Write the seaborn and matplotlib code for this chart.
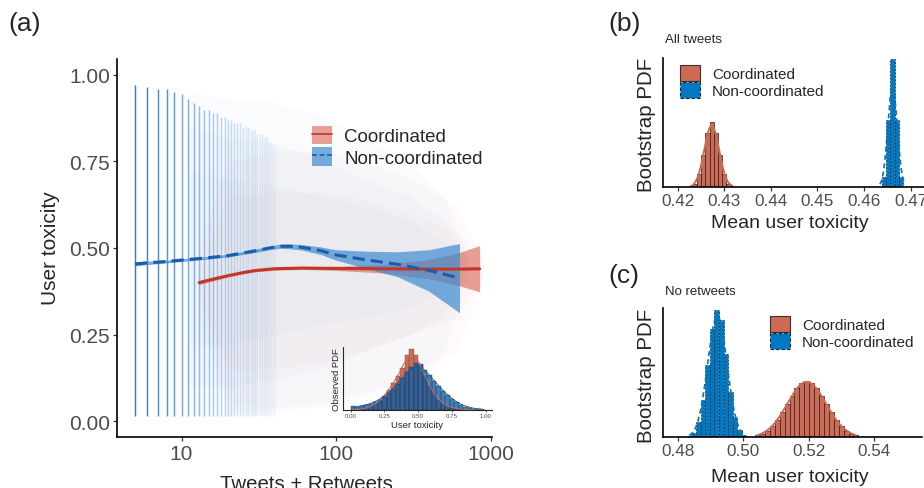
import numpy as np
import pandas as pd
import matplotlib
matplotlib.use("Agg")
import matplotlib.pyplot as plt
import seaborn as sns
from matplotlib.patches import Patch
from matplotlib.lines import Line2D

# ---------------- data: panel (a) ----------------
col_x = list(range(5, 41))
col_alpha = [0.9, 0.85, 0.8, 0.75, 0.7, 0.62, 0.55, 0.5, 0.45, 0.42, 0.38, 0.35, 0.32, 0.3,
             0.28, 0.26, 0.24, 0.22, 0.2, 0.19, 0.18, 0.17, 0.16, 0.15, 0.14, 0.13,
             0.12, 0.11, 0.1, 0.1, 0.09, 0.08, 0.08, 0.07, 0.07, 0.06]
col_top = [0.97, 0.965, 0.96, 0.96, 0.95, 0.945, 0.93, 0.92, 0.91, 0.9, 0.9, 0.89, 0.89, 0.88,
           0.88, 0.87, 0.87, 0.86, 0.86, 0.86, 0.85, 0.85, 0.85, 0.84, 0.84, 0.84,
           0.83, 0.83, 0.83, 0.82, 0.82, 0.82, 0.81, 0.81, 0.8, 0.8]
col_bottom = 0.015

# faint point cloud, drawn as nested density envelopes
blue_cloud_x = [11, 20, 40, 80, 150, 300, 500, 700]
blue_cloud_lo = [[0.02, 0.02, 0.03, 0.04, 0.07, 0.12, 0.2, 0.42],
                 [0.1, 0.1, 0.12, 0.15, 0.2, 0.25, 0.3, 0.44],
                 [0.22, 0.22, 0.25, 0.28, 0.3, 0.33, 0.38, 0.46]]
blue_cloud_hi = [[0.95, 0.93, 0.92, 0.88, 0.82, 0.75, 0.65, 0.48],
                 [0.85, 0.82, 0.8, 0.76, 0.7, 0.65, 0.58, 0.47],
                 [0.72, 0.7, 0.68, 0.65, 0.62, 0.58, 0.52, 0.47]]
red_cloud_x = [13, 20, 40, 80, 150, 300, 600, 900]
red_cloud_lo = [[0.3, 0.05, 0.04, 0.05, 0.08, 0.12, 0.2, 0.42],
                [0.35, 0.15, 0.15, 0.17, 0.2, 0.25, 0.3, 0.43]]
red_cloud_hi = [[0.5, 0.75, 0.78, 0.78, 0.75, 0.7, 0.62, 0.46],
                [0.45, 0.65, 0.66, 0.66, 0.64, 0.6, 0.55, 0.45]]

blue_x = [5, 6, 8, 10, 15, 20, 30, 37, 43, 50, 60, 80, 100, 150, 250, 400, 630]
blue_y = [0.454, 0.457, 0.461, 0.465, 0.472, 0.478, 0.492, 0.500, 0.505, 0.505, 0.502, 0.492,
          0.480, 0.467, 0.453, 0.435, 0.413]
blue_hw = [0.006, 0.005, 0.004, 0.004, 0.004, 0.004, 0.005, 0.005, 0.006, 0.007, 0.008, 0.011,
           0.015, 0.024, 0.036, 0.06, 0.1]

red_x = [13, 16, 20, 25, 30, 40, 60, 100, 200, 400, 630, 850]
red_y = [0.400, 0.410, 0.420, 0.429, 0.435, 0.440, 0.442, 0.441, 0.440, 0.439, 0.439, 0.440]
red_hw = [0.006, 0.005, 0.004, 0.004, 0.004, 0.004, 0.004, 0.006, 0.012, 0.028, 0.048, 0.067]

# inset: observed PDF (bin centres, heights)
inset_centers = [(i + 0.5) / 30 for i in range(30)]
inset_red = [0, 0, 0.5, 1.5, 3, 5.5, 9, 14, 20, 27, 34, 42, 55, 61, 55, 45, 34, 24, 16, 10,
             6, 3.5, 2, 1, 0.5, 0.2, 0, 0, 0, 0]
inset_blue = [4, 3, 3.5, 4.5, 6, 8, 10, 13, 16.5, 21, 26, 32, 38, 43, 47, 46, 40, 35, 29, 24,
              19, 14.5, 10.5, 7.5, 5, 3, 1.8, 1, 0.5, 0.2]
inset_ticks = [0.0, 0.25, 0.5, 0.75, 1.0]

# ---------------- data: panel (b) ----------------
b_red_centers = [0.4228, 0.4237, 0.4246, 0.4255, 0.4264, 0.4273, 0.4282, 0.4291, 0.4300, 0.4309, 0.4318]
b_red_heights = [0.7, 3.7, 13, 32, 55, 66, 55, 32, 13, 3.7, 0.7]
b_blue_centers = [0.4634, 0.4643, 0.4652, 0.4661, 0.4670, 0.4679, 0.4688]
b_blue_heights = [0.7, 10, 68, 129, 68, 10, 0.7]
b_ticks = [0.42, 0.43, 0.44, 0.45, 0.46, 0.47]

# ---------------- data: panel (c) ----------------
c_red_centers = [0.5044, 0.5059, 0.5074, 0.5089, 0.5104, 0.5119, 0.5134, 0.5149, 0.5164, 0.5179,
                 0.5194, 0.5209, 0.5224, 0.5239, 0.5254, 0.5269, 0.5284, 0.5299, 0.5314, 0.5329, 0.5344]
c_red_heights = [2, 3.8, 6.7, 11, 17, 25, 33, 42, 50, 55, 57, 55, 50, 42, 33, 25, 17, 11, 6.7, 3.8, 2]
c_blue_centers = [0.4835, 0.4849, 0.4863, 0.4877, 0.4891, 0.4905, 0.4919, 0.4933, 0.4947,
                  0.4961, 0.4975, 0.4989, 0.5003]
c_blue_heights = [1.5, 4.8, 15, 38, 73, 109, 128, 118, 84, 46, 20, 7, 2]
c_ticks = [0.48, 0.50, 0.52, 0.54]

# ---------------- style ----------------
sns.set_style("ticks")
plt.rcParams["font.family"] = ["Liberation Sans", "DejaVu Sans"]

RED_LINE = "#C1372A"
RED_RIB = "#D9533F"
BLUE_LINE = "#1A5DAD"
BLUE_RIB = "#3D8BD0"
COL_BLUE = "#1F6FC5"
HIST_RED = "#CD6A55"
HIST_BLUE = "#0078C3"
TICK_GREY = "#4D4D4D"

W, H = 924, 489
fig = plt.figure(figsize=(W / 100, H / 100), dpi=100)


def rect(l, t, r, b):
    return [l / W, 1 - b / H, (r - l) / W, (b - t) / H]


def style_axes(ax, size):
    for s in ["top", "right"]:
        ax.spines[s].set_visible(False)
    for s in ["left", "bottom"]:
        ax.spines[s].set_linewidth(1.2)
        ax.spines[s].set_color("black")
    ax.tick_params(axis="both", which="major", length=3, width=0.9, color="#333333",
                   labelsize=size, labelcolor=TICK_GREY, pad=2)
    ax.tick_params(axis="both", which="minor", length=0)


# ---------------- panel (a) ----------------
axA = fig.add_axes(rect(117, 60, 492, 438))
axA.set_xscale("log")
for lo, hi in zip(blue_cloud_lo, blue_cloud_hi):
    axA.fill_between(blue_cloud_x, lo, hi, color="#5A8FD0", alpha=0.035, lw=0, zorder=0)
for lo, hi in zip(red_cloud_lo, red_cloud_hi):
    axA.fill_between(red_cloud_x, lo, hi, color="#E07060", alpha=0.03, lw=0, zorder=0)
for xv, al, tp in zip(col_x, col_alpha, col_top):
    axA.vlines(xv, col_bottom, tp, color=COL_BLUE, alpha=al, lw=1.05, zorder=1)

blue_lo = [y - h for y, h in zip(blue_y, blue_hw)]
blue_hi = [y + h for y, h in zip(blue_y, blue_hw)]
red_lo = [y - h for y, h in zip(red_y, red_hw)]
red_hi = [y + h for y, h in zip(red_y, red_hw)]
axA.fill_between(red_x, red_lo, red_hi, color=RED_RIB, alpha=0.55, lw=0, zorder=2)
axA.fill_between(blue_x, blue_lo, blue_hi, color=BLUE_RIB, alpha=0.7, lw=0, zorder=3)
sns.lineplot(x=red_x, y=red_y, ax=axA, color=RED_LINE, linewidth=2.2, zorder=4)
sns.lineplot(x=blue_x, y=blue_y, ax=axA, color=BLUE_LINE, linewidth=2.2,
             linestyle=(0, (4, 2)), zorder=5)

axA.set_xlim(3.824, 1022.6)
axA.set_ylim(-0.0462, 1.0462)
axA.set_xticks([10, 100, 1000])
axA.set_xticklabels(["10", "100", "1000"])
axA.set_yticks([0, 0.25, 0.5, 0.75, 1.0])
axA.set_yticklabels(["0.00", "0.25", "0.50", "0.75", "1.00"])
style_axes(axA, 15)
axA.set_xlabel("")
axA.set_ylabel("")

legA_handles = [
    (Patch(facecolor=RED_RIB, alpha=0.55, lw=0), Line2D([], [], color=RED_LINE, lw=1.2)),
    (Patch(facecolor=BLUE_RIB, alpha=0.7, lw=0), Line2D([], [], color=BLUE_LINE, lw=1.2, linestyle=(0, (3, 1.5)))),
]
fig.legend(legA_handles, ["Coordinated", "Non-coordinated"], loc="upper left",
           bbox_to_anchor=(312 / W, 1 - 127 / H), frameon=False, fontsize=13.5,
           handlelength=1.07, handleheight=1.12, handletextpad=0.65, labelspacing=0.1,
           borderpad=0, borderaxespad=0)

# inset
axI = fig.add_axes(rect(342.7, 348, 492, 411))
axI.patch.set_alpha(0)
ed = [c - 1 / 60 for c in inset_centers] + [inset_centers[-1] + 1 / 60]
sns.histplot(x=inset_centers, weights=inset_red, bins=ed, ax=axI, color=HIST_RED, alpha=1,
             edgecolor="#555555", linewidth=0.3, kde=True, kde_kws={"bw_adjust": 0.5},
             line_kws={"color": "black", "lw": 0.7})
sns.histplot(x=inset_centers, weights=inset_blue, bins=ed, ax=axI, color="#0A5DA8", alpha=0.78,
             edgecolor="#333333", linewidth=0.3, kde=True, kde_kws={"bw_adjust": 0.5},
             line_kws={"color": "black", "lw": 0.7})
axI.set_xlim(-0.059, 1.047)
axI.set_ylim(-0.3, 63)
axI.set_xticks(inset_ticks)
axI.set_xticklabels(["0.00", "0.25", "0.50", "0.75", "1.00"])
axI.set_yticks([])
for s in ["top", "right"]:
    axI.spines[s].set_visible(False)
for s in ["left", "bottom"]:
    axI.spines[s].set_linewidth(0.8)
axI.tick_params(axis="x", length=1.5, width=0.5, labelsize=4.4, labelcolor=TICK_GREY, pad=1)
axI.set_xlabel("User toxicity", fontsize=6.8, labelpad=1)
axI.set_ylabel("Observed PDF", fontsize=6.8, labelpad=1)

# ---------------- panels (b), (c) ----------------
def boot_panel(ax, rc, rh, rw, bc, bh, bwid, ticks, xl, ylim, bw_r, bw_b):
    re = [c - rw / 2 for c in rc] + [rc[-1] + rw / 2]
    be = [c - bwid / 2 for c in bc] + [bc[-1] + bwid / 2]
    sns.histplot(x=rc, weights=rh, bins=re, ax=ax, color=HIST_RED, alpha=1,
                 edgecolor="#222222", linewidth=0.5, kde=True, kde_kws={"bw_adjust": bw_r},
                 line_kws={"color": "black", "lw": 1.4})
    sns.histplot(x=bc, weights=bh, bins=be, ax=ax, color=HIST_BLUE, alpha=1,
                 edgecolor="#222222", linewidth=0.5, linestyle=(0, (3, 2)), kde=True,
                 kde_kws={"bw_adjust": bw_b},
                 line_kws={"color": "black", "lw": 1.2, "linestyle": (0, (3, 2))})
    ax.set_xlim(*xl)
    ax.set_ylim(0, ylim)
    ax.set_xticks(ticks)
    ax.set_xticklabels([f"{t:.2f}" for t in ticks])
    ax.set_yticks([])
    style_axes(ax, 12.3)
    ax.tick_params(axis="x", pad=1)
    ax.set_xlabel("")
    ax.set_ylabel("")


axB = fig.add_axes(rect(663, 59, 930, 188.3))
boot_panel(axB, b_red_centers, b_red_heights, 0.0009, b_blue_centers, b_blue_heights, 0.0009,
           b_ticks, (0.41685, 0.47414), 130, 0.45, 0.8)
axC = fig.add_axes(rect(663, 309, 921.7, 438.3))
boot_panel(axC, c_red_centers, c_red_heights, 0.0015, c_blue_centers, c_blue_heights, 0.0014,
           c_ticks, (0.47551, 0.55450), 130, 0.35, 0.45)

legBC_handles = [
    Patch(facecolor=HIST_RED, edgecolor="#333333", lw=0.8),
    Patch(facecolor=HIST_BLUE, edgecolor="#222222", lw=0.8, linestyle=(0, (3, 2))),
]
for (lx, ly) in [(680, 66), (770, 317)]:
    fig.legend(legBC_handles, ["Coordinated", "Non-coordinated"], loc="upper left",
               bbox_to_anchor=(lx / W, 1 - ly / H), frameon=False, fontsize=11,
               handlelength=1.3, handleheight=1.25, handletextpad=0.8, labelspacing=0.05,
               borderpad=0, borderaxespad=0)

# ---------------- texts ----------------
def ftext(x, y, s, **kw):
    fig.text(x / W, 1 - y / H, s, **kw)

ftext(8, 24, "(a)", fontsize=19, va="center", ha="left")
ftext(608, 24, "(b)", fontsize=19, va="center", ha="left")
ftext(608, 276, "(c)", fontsize=19, va="center", ha="left")
ftext(50, 248, "User toxicity", fontsize=15, rotation=90, va="center", ha="center")
ftext(306.7, 489.6, "Tweets + Retweets", fontsize=14.7, va="baseline", ha="center")
ftext(665, 40, "All tweets", fontsize=9.5, va="center", ha="left")
ftext(665, 291.7, "No retweets", fontsize=9.5, va="center", ha="left")
ftext(646.7, 124.5, "Bootstrap PDF", fontsize=14.8, rotation=90, va="center", ha="center")
ftext(646.7, 376, "Bootstrap PDF", fontsize=14.8, rotation=90, va="center", ha="center")
ftext(790, 224, "Mean user toxicity", fontsize=14, va="center", ha="center")
ftext(790, 478, "Mean user toxicity", fontsize=14, va="center", ha="center")

fig.savefig("out.png", dpi=100)
